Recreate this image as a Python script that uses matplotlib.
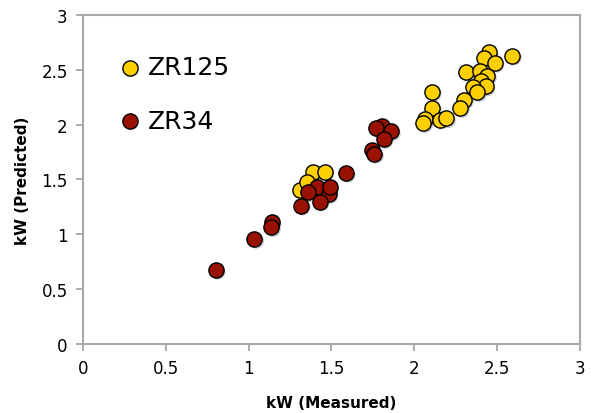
import matplotlib
matplotlib.use("Agg")
import matplotlib.pyplot as plt
import matplotlib.transforms as mtransforms

# ZR125 (yellow)
zr125_measured = [2.59, 2.45, 2.42, 2.485, 2.31, 2.395, 2.44, 2.40, 2.43, 2.355, 2.38,
                  2.30, 2.275, 2.107, 2.107, 2.066, 2.053, 2.153, 2.193,
                  1.388, 1.458, 1.311, 1.351]
zr125_predicted = [2.628, 2.659, 2.604, 2.562, 2.482, 2.491, 2.446, 2.40, 2.348, 2.339, 2.294,
                   2.227, 2.151, 2.30, 2.151, 2.051, 2.012, 2.045, 2.057,
                   1.565, 1.571, 1.407, 1.474]

# ZR34 (red)
zr34_measured = [1.805, 1.77, 1.859, 1.815, 1.744, 1.758, 1.587, 1.412, 1.361, 1.482,
                 1.488, 1.428, 1.315, 1.14, 1.136, 1.035, 0.802]
zr34_predicted = [1.99, 1.965, 1.938, 1.869, 1.771, 1.732, 1.559, 1.428, 1.383, 1.367,
                  1.428, 1.297, 1.261, 1.109, 1.064, 0.957, 0.675]

ticks = [0, 0.5, 1, 1.5, 2, 2.5, 3]
tick_labels = ["0", "0.5", "1", "1.5", "2", "2.5", "3"]

yellow = "#FFD000"
red = "#991100"

fig = plt.figure(figsize=(5.91, 4.14), dpi=100)
ax = fig.add_axes([0.1404, 0.1667, 0.8410, 0.7947])

shadow = mtransforms.offset_copy(ax.transData, fig=fig, x=2, y=-2, units="dots")
msize = 120

for xs, ys, c, lab in [(zr125_measured, zr125_predicted, yellow, "ZR125"),
                       (zr34_measured, zr34_predicted, red, "ZR34")]:
    ax.scatter(xs, ys, s=msize, c="#888888", alpha=0.45, edgecolors="none",
               transform=shadow, zorder=2)
    ax.scatter(xs, ys, s=msize, c=c, edgecolors="black", linewidths=1.0,
               zorder=3, label=lab)

ax.set_xlim(0, 3)
ax.set_ylim(0, 3)
ax.set_xticks(ticks)
ax.set_xticklabels(tick_labels)
ax.set_yticks(ticks)
ax.set_yticklabels(tick_labels)
ax.tick_params(labelsize=12, color="#a0a0a0", length=5, width=1.2, pad=6)

for sp in ax.spines.values():
    sp.set_color("#a8a8a8")
    sp.set_linewidth(1.5)

ax.set_xlabel("kW (Measured)", fontsize=11, fontweight="bold", labelpad=13)
ax.set_ylabel("kW (Predicted)", fontsize=11, fontweight="bold", labelpad=8)

leg = ax.legend(loc="upper left", bbox_to_anchor=(0.069, 0.878), frameon=False,
                fontsize=18, labelspacing=1.19, handlelength=1.0, handletextpad=0.22,
                borderaxespad=0, borderpad=0, scatterpoints=1)

fig.savefig("out.png", dpi=100)
